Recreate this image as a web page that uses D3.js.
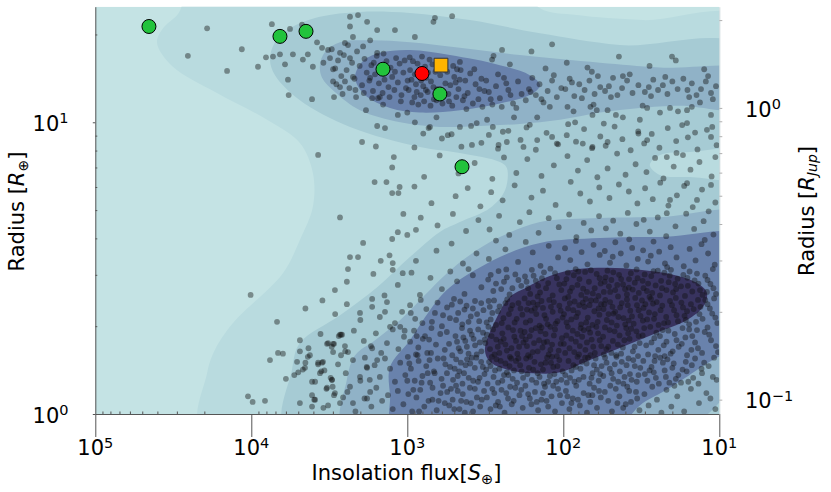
<!DOCTYPE html>
<html><head><meta charset="utf-8">
<script src="https://cdn.jsdelivr.net/npm/d3@7"></script>
<style>body{margin:0;background:#fff}svg{display:block}text{font-family:"DejaVu Sans",sans-serif;fill:#000}</style>
</head><body><svg id="chart" width="831" height="492"></svg>
<script>
// ---------- DATA (flux in S_earth, radius in R_earth) ----------
const xTicks = [1e5, 1e4, 1e3, 1e2, 1e1];
const xTickExp = ["5", "4", "3", "2", "1"];
const yTicks = [1, 10];
const yTickExp = ["0", "1"];
const jupTicks = [0.1, 1];
const jupTickExp = ["\u22121", "0"];
const rJupInREarth = 11.2;

const levelColors = ["#c4e3e4", "#b9dbdf", "#a6cbd4", "#90b2c7", "#6982ac", "#38335f"];

const contourB = [[23000,30],[190,30],[141,24.6],[82,23.3],[31,22.4],[6,22.1],[6,0.85],[20400,0.85],[19200,1.38],[17100,1.66],[13100,2.05],[6270,3.04],[4880,3.95],[4030,5.13],[4030,6.70],[4880,8.49],[7920,10.2],[16600,12.6],[31800,15.5],[40200,18.7],[36800,21.0],[29500,23.5]];
const contourC = [[7590,16.4],[7050,18.8],[5650,21.0],[3630,23.0],[2010,23.9],[962,23.7],[397,22.4],[141,20.2],[43.4,18.4],[6,17.4],[6,0.85],[5900,0.85],[5480,1.42],[4880,1.75],[2700,2.18],[1560,2.72],[962,3.45],[618,4.21],[460,4.55],[295,5.08],[236,5.86],[230,6.97],[255,7.31],[460,7.85],[830,8.23],[2330,9.64],[4880,11.9],[7050,14.5]];
const holeB = [[27.9,7.14],[24.0,7.73],[15.4,7.91],[6,7.98],[6,6.44],[15.4,6.49],[24.0,6.59]];
const contourDUpper = [[3630,15.7],[3370,17.4],[2700,18.8],[1730,19.1],[962,18.8],[460,18.0],[190,17.0],[58.2,16.0],[24.0,15.4],[6,14.9],[6,11.2],[17.9,11.4],[32.3,11.2],[58.2,10.8],[105,10.2],[190,9.87],[343,9.71],[618,9.64],[1110,10.0],[2010,11.0],[2910,12.7],[3520,14.2]];
const contourDLower = [[2510,0.85],[2440,1.31],[2160,1.59],[1610,1.79],[1110,2.10],[771,2.56],[557,3.04],[397,3.51],[255,4.04],[141,4.55],[58.2,4.70],[24.0,4.73],[6,4.73],[6,1.40],[7.7,1.28],[15.4,0.92]];
const contourEUpper = [[2160,14.2],[1950,16.1],[1500,17.3],[962,17.7],[533,17.0],[255,15.7],[164,14.5],[141,13.4],[164,12.4],[255,11.6],[460,11.0],[830,10.8],[1290,11.2],[1870,12.4]];
const contourELower = [[1200,0.85],[1290,1.16],[1290,1.45],[962,1.79],[716,2.27],[533,2.72],[255,3.45],[141,3.86],[58.2,4.01],[24.0,4.04],[6,4.01],[6,1.98],[13.3,1.44],[20.7,1.23],[32.3,1.07],[39.1,0.95],[45,0.85]];
const contourF = [[318,1.66],[266,2.15],[220,2.52],[171,2.72],[127,2.95],[86.7,3.12],[52.5,3.17],[32.3,3.12],[19.8,3.00],[13.9,2.81],[12.0,2.60],[12.7,2.33],[16.1,2.10],[25.1,1.90],[41.5,1.70],[67.5,1.53],[105,1.39],[156,1.38],[230,1.42],[295,1.51]];

const smallPlanets = [
[10.6,1.04],[12.1,1.18],[13.5,1.09],[15.2,1.22],[16.8,1.02],[11.4,1.13],
[18.6,1.15],[20.3,1.06],[21.8,1.21],[23.5,1.01],[25.1,1.12],[26.9,1.24],[28.4,1.07],[30.2,1.17],[19.4,1.25],
[32.5,1.03],[34.2,1.19],[36.8,1.10],[38.9,1.24],[41.3,1.05],[43.7,1.15],[46.1,1.22],[48.8,1.02],[51.5,1.11],[54.2,1.19],[39.8,1.08],
[57.5,1.14],[60.8,1.05],[63.5,1.23],[67.2,1.10],[70.5,1.01],[74.1,1.18],[78.3,1.07],[82.6,1.25],[86.9,1.13],[91.4,1.04],[96.2,1.20],[65.1,1.16],[88.7,1.09],
[102,1.09],[108,1.22],[113,1.02],[119,1.15],[125,1.06],[131,1.24],[138,1.12],[145,1.03],[152,1.19],[160,1.08],[168,1.17],[175,1.25],[128,1.11],
[182,1.05],[191,1.16],[203,1.23],[214,1.08],[226,1.13],[238,1.01],[249,1.21],[262,1.10],[277,1.18],[293,1.04],[309,1.14],[219,1.24],[271,1.07],
[322,1.20],[341,1.06],[358,1.14],[379,1.02],[397,1.23],[418,1.10],[441,1.17],[463,1.04],[487,1.25],[512,1.12],[538,1.07],[555,1.19],[428,1.01],
[575,1.09],[612,1.18],[648,1.03],[689,1.23],[731,1.11],[778,1.06],[826,1.21],[874,1.14],[931,1.02],[985,1.17],
[1060,1.08],[1150,1.20],[1240,1.04],[1330,1.16],[1450,1.11],[1580,1.23],[1700,1.06],
[1880,1.13],[2150,1.02],[2420,1.19],[2700,1.09],[3010,1.24],
[3450,1.05],[10500,1.15],[9800,1.10],[8170,1.11],[4880,1.09],[4080,1.06],[3900,1.12],
[10.4,1.31],[11.7,1.46],[12.9,1.38],[14.3,1.55],[15.8,1.29],[17.2,1.42],[13.6,1.27],[16.4,1.51],
[18.3,1.36],[19.6,1.49],[20.9,1.28],[22.4,1.41],[23.9,1.56],[25.5,1.33],[27.2,1.45],[28.9,1.30],[30.7,1.52],[21.5,1.54],[26.3,1.39],
[32.1,1.44],[33.8,1.29],[35.6,1.53],[37.4,1.37],[39.3,1.47],[41.2,1.27],[43.4,1.40],[45.6,1.57],[47.9,1.32],[50.3,1.43],[52.8,1.50],[55.4,1.35],[36.5,1.31],[46.8,1.48],
[56.8,1.46],[59.3,1.30],[62.1,1.55],[64.9,1.38],[67.8,1.27],[70.9,1.49],[74.2,1.34],[77.6,1.43],[81.1,1.57],[84.8,1.29],[88.5,1.41],[92.6,1.52],[97.1,1.36],[61.0,1.42],[72.5,1.56],[86.2,1.47],[95.0,1.28],
[101,1.40],[106,1.53],[111,1.29],[116,1.45],[122,1.35],[127,1.56],[133,1.27],[139,1.48],[146,1.38],[153,1.51],[159,1.31],[166,1.44],[173,1.55],[114,1.37],[135,1.42],[149,1.28],[163,1.57],[120,1.50],
[181,1.33],[189,1.47],[198,1.28],[207,1.41],[216,1.55],[225,1.36],[235,1.49],[246,1.30],[257,1.43],[268,1.54],[280,1.34],[293,1.46],[306,1.27],[201,1.52],[230,1.39],[262,1.28],[287,1.57],[312,1.42],
[320,1.37],[336,1.51],[352,1.29],[369,1.44],[386,1.56],[404,1.33],[423,1.47],[443,1.27],[464,1.40],[486,1.54],[509,1.31],[532,1.45],[557,1.38],[395,1.49],[475,1.35],
[570,1.48],[603,1.32],[638,1.55],[675,1.40],[714,1.28],[756,1.46],[800,1.35],[846,1.52],[896,1.30],[948,1.43],[992,1.57],[720,1.53],
[1030,1.36],[1110,1.50],[1200,1.29],[1290,1.43],[1390,1.55],[1500,1.34],[1620,1.47],[1740,1.31],
[1820,1.45],[2000,1.30],[2230,1.53],[2480,1.38],[2780,1.48],[3100,1.33],
[3400,1.41],[3900,1.29],[4500,1.50],[5300,1.36],[7590,1.53],[6000,1.32],
[10.2,1.63],[11.3,1.79],[12.4,1.91],[13.7,1.68],[14.9,1.85],[16.1,1.59],[17.4,1.74],[11.9,1.98],[15.6,1.95],
[18.2,1.70],[19.3,1.88],[20.5,1.61],[21.8,1.77],[23.1,1.94],[24.6,1.66],[26.1,1.82],[27.7,1.99],[29.4,1.72],[31.0,1.86],[22.4,1.58],[25.3,1.90],[28.6,1.60],
[32.4,1.75],[34.0,1.92],[35.8,1.64],[37.6,1.81],[39.5,1.97],[41.5,1.69],[43.6,1.86],[45.8,1.59],[48.1,1.78],[50.5,1.94],[53.0,1.67],[55.6,1.84],[33.2,1.58],[38.4,1.89],[44.7,1.73],[49.2,1.62],[54.1,1.98],
[57.1,1.71],[59.9,1.89],[62.8,1.62],[65.8,1.80],[68.9,1.96],[72.2,1.66],[75.7,1.84],[79.3,1.60],[83.1,1.77],[87.0,1.93],[91.2,1.68],[95.6,1.86],[99.2,1.74],[61.4,1.99],[70.6,1.76],[77.4,1.97],[85.1,1.63],[93.5,1.99],[67.0,1.59],
[102,1.82],[107,1.65],[113,1.95],[118,1.73],[124,1.60],[130,1.88],[136,1.69],[143,1.79],[150,1.97],[157,1.63],[164,1.85],[171,1.71],[177,1.91],[110,1.58],[127,1.77],[140,1.92],[154,1.75],[168,1.59],[121,1.99],
[180,1.76],[188,1.93],[197,1.61],[206,1.84],[215,1.68],[225,1.98],[235,1.73],[246,1.89],[257,1.62],[269,1.80],[282,1.95],[295,1.67],[309,1.87],[192,1.70],[220,1.57],[252,1.77],[276,1.60],[302,1.99],
[319,1.80],[335,1.64],[351,1.95],[368,1.72],[386,1.87],[405,1.61],[425,1.78],[446,1.97],[468,1.68],[491,1.85],[515,1.59],[540,1.74],[558,1.91],[437,1.83],
[575,1.66],[615,1.88],[655,1.73],[700,1.97],[745,1.62],[795,1.81],[850,1.69],[905,1.93],[960,1.77],[880,1.60],
[1050,1.84],[1140,1.67],[1240,1.95],[1350,1.75],[1470,1.62],[1590,1.89],[1710,1.71],
[1900,1.78],[2200,1.93],[2500,1.64],[2750,1.85],[3050,1.70],
[4880,1.79],[6740,1.62],[6270,1.61],[3600,1.88],[4300,1.68],[2700,1.87],
[10.3,2.05],[11.1,2.21],[11.9,2.38],[12.8,2.12],[13.7,2.46],[14.6,2.29],[15.6,2.03],[16.7,2.17],[17.5,2.41],[10.8,2.49],[13.2,2.33],[16.1,2.25],
[18.4,2.08],[19.5,2.27],[20.7,2.44],[21.9,2.15],[23.2,2.35],[24.5,2.02],[25.9,2.20],[27.4,2.48],[29.0,2.11],[30.6,2.31],[19.0,2.50],[22.6,2.05],[26.6,2.39],[28.2,2.23],[31.3,2.45],
[32.0,2.17],[33.7,2.36],[35.4,2.04],[37.2,2.26],[39.1,2.47],[41.1,2.13],[43.2,2.32],[45.4,2.01],[47.7,2.21],[50.1,2.42],[52.6,2.10],[55.2,2.29],[34.6,2.50],[38.1,2.09],[42.2,2.40],[46.5,2.24],[49.0,2.06],[53.8,2.46],
[57.3,2.38],[60.2,2.07],[63.2,2.25],[66.4,2.45],[69.7,2.14],[73.1,2.33],[76.8,2.03],[80.6,2.22],[84.6,2.43],[88.8,2.11],[93.2,2.30],[97.8,2.49],[58.7,2.19],[65.0,2.02],[71.8,2.48],[79.0,2.36],[86.4,2.27],[95.3,2.06],
[101,2.14],[106,2.35],[112,2.04],[117,2.24],[123,2.46],[129,2.12],[135,2.31],[142,2.01],[149,2.20],[156,2.41],[163,2.09],[171,2.28],[177,2.49],[115,2.42],[132,2.18],[146,2.37],[160,2.26],
[183,2.19],[194,2.40],[205,2.06],[217,2.29],[229,2.47],[242,2.13],[256,2.34],[270,2.02],[285,2.22],[301,2.44],[212,2.36],[248,2.05],[292,2.11],
[325,2.27],[346,2.08],[368,2.44],[392,2.16],[417,2.35],[444,2.03],[472,2.22],[502,2.48],[533,2.13],[556,2.32],
[590,2.18],[640,2.41],[695,2.07],[755,2.29],[820,2.46],[890,2.12],[960,2.36],
[1080,2.24],[1200,2.05],[1350,2.42],[1500,2.15],[1680,2.33],
[2000,2.10],[2440,2.38],[2900,2.20],[6840,2.07],[4500,2.30],[3500,2.45],
[10.5,2.58],[11.4,2.79],[12.3,2.98],[13.3,2.66],[14.4,2.87],[15.5,3.08],[16.6,2.54],[17.6,2.74],[11.0,3.14],[13.9,3.03],[16.0,2.93],
[18.5,2.91],[19.8,2.61],[21.1,2.83],[22.5,3.05],[24.0,2.55],[25.6,2.76],[27.3,2.97],[29.1,2.64],[31.0,2.86],[20.4,3.12],[23.3,2.70],[26.4,3.09],[28.0,2.52],[30.1,3.01],[18.9,2.68],
[32.8,2.60],[34.8,2.82],[36.9,3.04],[39.1,2.57],[41.4,2.78],[43.9,3.00],[46.5,2.66],[49.2,2.88],[52.1,3.10],[55.0,2.62],[33.9,3.13],[38.0,2.71],[44.6,2.53],[47.8,3.06],[51.0,2.74],[53.6,2.94],
[57.6,2.80],[61.1,3.02],[64.7,2.59],[68.5,2.84],[72.5,3.07],[76.7,2.56],[81.1,2.77],[85.7,2.99],[90.5,2.63],[95.5,2.90],[59.5,2.54],[66.6,3.11],[74.6,2.69],[83.3,3.14],[92.9,2.52],
[103,2.66],[110,2.92],[117,2.55],[125,2.81],[133,3.06],[141,2.61],[150,2.86],[159,3.12],[168,2.70],[176,2.96],[121,3.15],[146,2.53],
[186,2.75],[203,3.01],[221,2.57],[240,2.84],[260,3.09],[281,2.64],[303,2.89],[232,3.13],
[335,2.72],[380,2.99],[430,2.58],[480,2.85],[530,3.08],[405,3.14],
[600,2.68],[710,2.93],[830,2.56],[940,3.05],
[1150,2.77],[1400,2.55],[1650,3.02],[2440,2.84],[2910,2.66],[10100,2.56],
[10.7,3.25],[11.8,3.55],[13.0,3.82],[14.2,3.36],[15.5,3.68],[16.9,3.21],[12.4,3.95],
[18.8,3.44],[20.5,3.73],[22.3,3.28],[24.3,3.60],[26.4,3.90],[28.6,3.33],[30.8,3.64],[21.6,3.19],[27.5,3.49],
[33.3,3.40],[36.2,3.71],[39.4,3.23],[42.8,3.55],[46.4,3.88],[50.2,3.30],[54.2,3.62],[37.8,3.97],[48.2,3.46],
[58.4,3.51],[64.0,3.80],[70.0,3.26],[76.3,3.59],[83.0,3.92],[90.2,3.37],[97.5,3.70],
[108,3.44],[124,3.77],[140,3.22],[157,3.58],[174,3.89],
[195,3.32],[235,3.67],[270,3.93],[300,3.40],
[360,3.55],[440,3.28],[520,3.84],[650,3.63],[880,3.35],
[1920,3.86],[2330,3.45],[2070,3.45],[2400,3.14],[1300,3.50],
[1480,3.35],[1240,3.29],[1240,3.12],[1070,3.04],[1680,2.48],[2010,2.22],[1390,2.24],
[1250,3.98],[1290,1.99],[1110,1.99],[1040,1.93],[2620,1.87],[3220,1.75],[2990,1.74],[2510,1.71],[4210,1.59],[3730,1.50],[3470,1.51],[2990,1.63],[2660,1.59],[2400,1.63],[4530,1.44],[3630,1.38],[3040,1.31],[3270,1.23],[4080,1.29],[2910,1.18],[2580,1.14],[2230,1.09],[3220,1.07],[1810,1.13],[1730,1.19],[2330,1.24],[2010,1.34],[1810,1.44],[1560,1.53],[1870,1.56],[1680,1.68],
[4880,1.64],[5090,1.51],[4670,1.42],[5000,1.39],[4340,1.57],[3270,1.74],[2950,1.74],[2660,1.87],[3730,1.48],[3520,1.50],[3560,1.40],[3300,1.22],[3040,1.31],[2950,1.16],[4080,1.16],[3950,1.12]
];

const denseSmallPlanets = [
[11.0,1.34],[12.5,1.50],[14.7,1.33],[16.2,1.40],[10.8,1.56],[13.0,1.43],[15.0,1.47],[17.6,1.28],
[19.0,1.32],[20.0,1.44],[22.0,1.34],[23.0,1.50],[24.4,1.27],[26.0,1.52],[28.0,1.41],[30.0,1.37],
[33.0,1.36],[34.8,1.46],[38.2,1.55],[40.5,1.34],[42.2,1.51],[44.5,1.29],[49.0,1.38],[54.0,1.56],
[58.0,1.37],[63.5,1.47],[66.0,1.33],[69.5,1.56],[76.0,1.51],[79.5,1.31],[83.0,1.45],[90.5,1.33],
[103,1.31],[109,1.46],[118,1.57],[125,1.29],[130,1.50],[142,1.34],[156,1.42],[170,1.37],
[185,1.40],[194,1.55],[211,1.32],[221,1.46],[240,1.36],[252,1.52],[274,1.41],[299,1.51],
[328,1.45],[344,1.33],[361,1.56],[378,1.30],[414,1.54],[433,1.38],[454,1.50],[497,1.43],
[10.5,1.71],[11.6,1.87],[12.9,1.62],[13.9,1.94],[15.1,1.66],[16.5,1.83],[17.2,1.97],[14.3,1.76],
[18.8,1.79],[19.9,1.64],[21.2,1.93],[22.7,1.72],[24.0,1.85],[25.8,1.58],[27.2,1.76],[30.3,1.97],
[32.9,1.85],[34.9,1.70],[36.7,1.96],[40.6,1.79],[42.6,1.61],[46.9,1.92],[51.5,1.70],[55.0,1.60],
[58.4,1.79],[64.3,1.70],[67.3,1.90],[73.9,1.94],[78.3,1.71],[81.2,1.88],[89.0,1.81],[97.3,1.62],
[104,1.74],[115,1.86],[121,1.66],[133,1.76],[146,1.64],[160,1.94],[174,1.80],[138,1.98],
[184,1.85],[201,1.78],[210,1.94],[230,1.65],[241,1.81],[263,1.70],[288,1.85],[316,1.75],
[327,1.90],[343,1.76],[359,1.60],[376,1.81],[396,1.93],[415,1.70],[457,1.64],[480,1.77],
[10.6,2.14],[11.5,2.30],[12.3,2.46],[13.4,2.20],[14.1,2.07],[15.2,2.38],[16.4,2.10],[17.1,2.32],
[18.8,2.18],[20.1,2.36],[21.3,2.06],[23.8,2.27],[25.2,2.42],[26.2,2.12],[29.8,2.38],[30.9,2.09],
[32.9,2.27],[36.3,2.16],[38.6,2.36],[40.1,2.03],[44.3,2.15],[48.4,2.33],[51.3,2.20],[54.5,2.38],
[59.4,2.30],[61.8,2.45],[67.9,2.36],[71.3,2.06],[75.0,2.41],[82.5,2.15],[90.9,2.40],[99.0,2.20],
[104,2.26],[109,2.08],[120,2.33],[126,2.03],[138,2.44],[152,2.30],[167,2.40],[174,2.06],
[188,2.30],[199,2.12],[223,2.20],[235,2.40],[262,2.25],[278,2.45],[296,2.33],[310,2.06],
[336,2.40],[357,2.20],[380,2.30],[405,2.07],[430,2.28],[458,2.43],[487,2.10],[518,2.37],
[10.9,2.70],[11.9,2.88],[12.8,2.56],[13.6,2.80],[14.9,2.63],[15.9,2.75],[17.0,3.00],[12.0,2.62],
[19.2,2.79],[20.8,2.98],[21.8,2.66],[23.6,2.86],[24.8,3.10],[26.9,2.60],[28.6,2.80],[30.6,2.70],
[33.4,2.92],[35.9,2.67],[37.9,2.90],[40.2,2.68],[42.6,2.90],[45.1,2.77],[50.1,2.62],[54.3,2.84],
[58.5,2.92],[62.9,2.70],[70.5,2.62],[78.8,2.90],[80.0,3.08],[87.9,2.71],[93.5,3.05],[98.5,2.80],
[106,2.78],[113,3.04],[129,2.70],[137,2.92],[145,2.75],[155,2.98],[163,2.58],[172,2.84],
[194,2.88],[212,2.70],[230,2.94],[250,2.68],[270,2.80],[292,3.00],
[33.6,1.13],[37.8,1.20],[45.0,1.09],[50.0,1.25],[59.0,1.20],[69.0,1.16],[80.5,1.12],[94.0,1.15],[105,1.16],[116,1.25],[135,1.18],[148,1.10],[164,1.13],[186,1.21],[208,1.11],[232,1.18],[255,1.06],[285,1.22],[333,1.12],[369,1.22],[390,1.09],[452,1.11],[475,1.20],[500,1.04],[525,1.22],
[590,1.25],[630,1.11],[668,1.38],[705,1.62],[740,1.38],[770,1.85],[810,1.28],[860,1.59],[915,1.21],[970,1.49],[600,2.00],[665,2.22],[725,1.80],[800,2.05],[870,1.85],[950,2.22],[585,1.55],[690,1.12],[840,1.02],[1000,1.30]
];

const midPlanets = [
[10.9,4.12],[12.6,4.58],[14.5,4.31],[16.3,4.86],[11.7,4.95],[19.1,4.40],[21.9,4.07],[24.8,4.72],[27.9,4.22],[30.5,4.63],[34.0,4.48],[38.6,4.89],[43.1,4.15],[47.9,4.60],[53.3,4.33],[59.0,4.77],[66.2,4.26],[74.0,4.52],[82.4,4.04],[91.7,4.83],[107,4.37],[124,4.69],[144,4.18],[165,4.92],[190,4.55],[222,4.11],[258,4.78],[297,4.29],[350,4.62],[420,4.24],[510,4.85],[640,4.43],[820,4.71],[1150,4.20],[1060,4.85],[880,4.28],[1000,4.11],[2700,4.72],
[10.6,5.31],[12.9,5.88],[14.8,5.12],[16.8,6.05],[18.7,5.62],[21.2,5.18],[23.9,6.21],[26.7,5.45],[29.9,5.94],[33.5,5.27],[38.0,5.79],[44.0,6.12],[50.6,5.50],[58.8,5.98],[67.5,5.35],[77.8,5.70],[89.6,6.25],[112,5.21],[135,5.83],[160,5.52],[205,6.08],[245,5.40],[290,5.76],[340,5.15],[410,5.95],[490,5.58],[700,5.28],[900,6.02],[1620,6.24],[1360,6.24],[1250,5.72],[1140,5.72],[1120,6.00],[20.7,5.42],[21.7,4.88],[13.9,5.42],[16.1,6.18],[11.3,6.10],
[11.2,6.52],[13.4,7.31],[15.3,6.88],[17.1,7.72],[19.6,7.05],[22.8,6.42],[25.8,7.55],[29.3,6.75],[34.4,7.18],[39.9,6.61],[45.2,7.81],[52.0,6.95],[60.5,6.48],[70.3,7.42],[80.6,6.83],[94.0,7.66],[115,7.12],[138,6.55],[170,7.48],[200,6.70],[240,7.58],[285,6.40],[370,7.25],[470,6.68],[620,7.70],[780,6.50],[1250,7.00],[1220,7.60],[3730,7.73],[21.7,7.60],[18.8,7.85],[10.6,7.60],
[10.4,8.35],[12.0,9.42],[13.8,8.07],[15.9,8.88],[17.3,9.78],[18.9,8.62],[21.4,9.55],[24.2,8.18],[27.1,9.12],[30.3,8.46],[33.1,9.30],[37.0,8.02],[41.8,8.75],[46.9,9.67],[53.5,8.31],[57.9,8.94],[65.4,8.15],[73.6,9.48],[82.9,8.58],[93.1,9.85],[108,8.40],[128,9.20],[150,8.05],[172,9.60],[188,8.70],[225,9.35],[262,8.12],[300,9.05],[335,8.50],[390,9.72],[450,8.25],[520,9.10],[600,8.80],[730,9.55],[900,8.20],[1950,8.56],[1590,8.26],[1560,9.71],[1390,9.55],[385,8.36],[260,8.36],[230,8.56],[180,8.23],[147,8.69],[118,8.91],[110,8.45],[95,9.03],[75,8.45],[65,8.23],[52,8.56],[33,9.15],[29,8.69],[14.3,9.22],[11.3,8.91],[11.1,9.64],[16.1,9.94],[55,9.9],[164,9.80],[244,9.28],[283,9.64],[359,9.94],[460,9.64],[550,9.03],[716,9.64],[790,9.15]
];

const giantPlanets = [
[122,11.3],[94,11.3],[86,10.9],[67,11.3],[52,11.0],[41.5,10.4],[29,11.2],[18.4,10.9],[11.3,10.6],[20.7,11.2],[32.3,10.2],[65,10.6],[84,10.0],[147,10.4],[207,10.4],[308,10.2],[650,10.4],
[1020,13.1],[1060,14.8],[1090,12.4],[1120,15.9],[1150,13.7],[1180,16.6],[1210,12.9],[1250,14.3],[1280,15.4],[1320,13.2],[1360,16.2],[1400,14.0],[1440,12.6],[1480,15.0],[1520,13.6],[1570,16.9],[1610,14.6],[1660,12.8],[1700,15.7],[1750,13.9],[1040,16.3],[1100,11.8],[1200,14.9],[1300,12.2],[1420,17.2],[1540,12.1],[1640,16.0],[1730,14.2],
[1820,14.8],[1880,16.5],[1950,13.4],[2020,15.6],[2100,17.5],[2180,14.1],[2260,16.0],[2350,13.1],[2450,15.1],[2550,17.0],[2650,14.4],[2780,16.3],[2900,15.3],[3050,17.8],[1900,12.6],[2150,12.9],[2400,18.4],[2600,12.5],[2850,13.5],
[570,13.6],[585,15.2],[600,12.3],[615,14.5],[630,16.1],[645,13.0],[660,14.9],[675,12.0],[690,15.8],[705,13.8],[720,16.4],[740,12.7],[755,14.2],[770,15.5],[790,13.3],[805,16.8],[820,12.4],[840,14.7],[860,15.9],[880,13.5],[900,12.2],[920,16.2],[940,14.0],[960,15.1],[980,12.9],[995,13.9],[595,11.6],[650,11.9],[710,11.4],[780,11.8],[850,11.5],[930,11.7],[625,15.6],[735,14.8],[815,13.9],[895,14.6],[965,16.7],[680,13.2],[760,12.9],[870,12.7],
[320,12.8],[335,14.1],[350,12.0],[365,13.5],[380,11.6],[395,14.7],[410,12.6],[425,13.9],[440,11.9],[455,15.1],[470,13.0],[485,12.2],[500,14.3],[515,11.4],[530,13.4],[545,12.5],[555,14.9],[330,11.3],[372,15.2],[418,11.1],[462,14.0],[508,15.6],[540,11.8],[345,13.0],[430,12.3],[490,13.7],
[185,12.5],[195,13.8],[210,11.6],[225,12.9],[240,14.2],[255,12.1],[270,13.3],[285,11.5],[300,12.7],[312,13.9],[200,11.2],[232,13.6],[262,14.6],[292,12.0],[218,12.4],[248,11.3],
[103,13.1],[110,12.2],[118,13.9],[126,12.8],[134,11.7],[142,13.5],[150,12.4],[158,14.2],[166,13.0],[174,11.9],[115,14.5],[138,12.0],[162,12.7],
[58,13.2],[63,12.5],[68,13.9],[73,12.9],[79,13.5],[85,12.3],[91,14.1],[97,13.0],[60,14.4],[76,12.1],[88,13.7],
[33,13.4],[36,12.6],[39,13.9],[42,13.1],[45,12.4],[48,14.2],[51,13.3],[54,12.8],[37.5,14.6],[49.5,12.2],
[18.5,13.0],[20,13.8],[21.5,12.5],[23,13.4],[24.7,12.9],[26.5,14.0],[28.3,13.2],[30,12.7],[22.2,14.3],[27.4,12.3],
[10.5,13.3],[11.3,12.6],[12.2,13.8],[13.1,13.0],[14.0,12.4],[15.0,13.6],[16.0,12.9],[17.0,14.1],[11.8,14.4],[15.6,12.2],
[12.5,15.2],[19,16.3],[28,15.6],[44,16.8],[70,15.4],[95,16.0],[130,15.3],[160,17.5],[220,15.8],[280,16.9],[31,11.4],[15,11.3],[64,11.5],[46,10.6],[24,10.8],
[19200,21.0],[25500,16.9],[14300,15.0],[11500,17.8],[9060,15.5],[8050,16.7],[7260,16.8],[7380,21.7],[5650,20.9],[4730,21.6],[6080,15.8],[6550,17.1],[5410,17.1],[4670,16.4],[4340,17.1],[5820,14.0],[5760,12.4],[4080,12.0],[3790,18.8],[4030,15.5],[3520,18.0],[3450,16.0],[3220,17.7],[2990,15.2],[2950,12.2],[2330,23.0],[2070,23.3],[2330,21.3],[1810,22.1],[1560,20.7],[2510,18.7],[2230,19.6],[1920,18.2],[1730,19.1],[2700,17.3],[2330,16.6],[3130,16.6],[2990,13.8],[2700,13.2],[2510,13.8],[2230,14.3],[2130,12.2],[1840,11.0],[1680,12.1],[1500,12.2],[1430,11.5],[1150,10.6],[1000,10.8],[894,10.0],[1200,20.7],[1560,17.3],[1360,15.2],
[665,22.8],[516,23.1],[680,22.1],[894,19.6],[247,17.7],[118,18.5],[286,16.4],[460,16.1],[480,15.2],[20.1,16.8],[65.6,14.9],[41.5,14.4],[61,11.0],[16.1,11.0],[13.3,11.7],[11.0,12.0]
];

const greenPlanets = [[45300,21.3],[6550,19.7],[4460,20.5],[1432,15.2],[618,12.5],[446,7.04]];
const redPlanet = [[805,14.7]];
const orangePlanet = [[608,15.7]];

// ---------- LAYOUT ----------
const plot = {left: 95.3, right: 719.3, top: 6.7, bottom: 414};
const x = d3.scaleLog().domain([1e5, 10]).range([plot.left, plot.right]);
const y = d3.scaleLog().domain([1, 24.9]).range([plot.bottom, plot.top]);
const yJup = d3.scaleLog().domain([1 / rJupInREarth, 24.9 / rJupInREarth]).range([plot.bottom, plot.top]);

const svg = d3.select("#chart");
svg.append("defs").append("clipPath").attr("id", "clip")
  .append("rect").attr("x", plot.left).attr("y", plot.top)
  .attr("width", plot.right - plot.left).attr("height", plot.bottom - plot.top);

const g = svg.append("g").attr("clip-path", "url(#clip)");
g.append("rect").attr("x", plot.left).attr("y", plot.top)
  .attr("width", plot.right - plot.left).attr("height", plot.bottom - plot.top)
  .attr("fill", levelColors[0]);

const area = d3.line().x(d => x(d[0])).y(d => y(d[1])).curve(d3.curveCatmullRomClosed.alpha(0.5));
const layers = [
  [contourB, 1], [contourC, 2], [holeB, 1], [contourDUpper, 3], [contourDLower, 3],
  [contourEUpper, 4], [contourELower, 4], [contourF, 5]
];
g.selectAll("path.level").data(layers).join("path").attr("class", "level")
  .attr("d", d => area(d[0])).attr("fill", d => levelColors[d[1]]);

const allPlanets = smallPlanets.concat(denseSmallPlanets, midPlanets, giantPlanets);
g.selectAll("circle.pl").data(allPlanets).join("circle").attr("class", "pl")
  .attr("cx", d => x(d[0])).attr("cy", d => y(d[1])).attr("r", 2.9)
  .attr("fill", "#111").attr("fill-opacity", 0.42);

// highlighted planets
svg.selectAll("circle.green").data(greenPlanets).join("circle").attr("class", "green")
  .attr("cx", d => x(d[0])).attr("cy", d => y(d[1])).attr("r", 7)
  .attr("fill", "#22c33c").attr("stroke", "#000").attr("stroke-width", 1);
svg.selectAll("circle.red").data(redPlanet).join("circle").attr("class", "red")
  .attr("cx", d => x(d[0])).attr("cy", d => y(d[1])).attr("r", 7)
  .attr("fill", "#ff0000").attr("stroke", "#000").attr("stroke-width", 1);
svg.selectAll("path.orange").data(orangePlanet).join("path").attr("class", "orange")
  .attr("transform", d => `translate(${x(d[0])},${y(d[1])})`)
  .attr("d", d3.symbol(d3.symbolSquare, 190))
  .attr("fill", "#ffb400").attr("stroke", "#333").attr("stroke-width", 1);

// ---------- AXES ----------
const axisColor = "#555";
function styleAxis(sel, color) {
  sel.selectAll("line").attr("stroke", color);
  sel.selectAll("path").attr("stroke", color);
}
const minorX = [];
[1e1, 1e2, 1e3, 1e4].forEach(b => { for (let k = 2; k <= 9; k++) minorX.push(b * k); });
const minorY = [2, 3, 4, 5, 6, 7, 8, 9, 20];
const minorJup = [0.2, 0.3, 0.4, 0.5, 0.6, 0.7, 0.8, 0.9, 2];

const gx = svg.append("g").attr("transform", `translate(0,${plot.bottom})`)
  .call(d3.axisBottom(x).tickValues(xTicks).tickSize(23).tickSizeOuter(0).tickFormat(""));
styleAxis(gx, axisColor);
const gxm = svg.append("g").attr("transform", `translate(0,${plot.bottom})`)
  .call(d3.axisBottom(x).tickValues(minorX).tickSize(-2.5).tickSizeOuter(0).tickFormat(""));
gxm.select(".domain").remove(); styleAxis(gxm, axisColor);

const gy = svg.append("g").attr("transform", `translate(${plot.left},0)`)
  .call(d3.axisLeft(y).tickValues(yTicks).tickSize(2.5).tickSizeOuter(0).tickFormat(""));
styleAxis(gy, axisColor);
const gym = svg.append("g").attr("transform", `translate(${plot.left},0)`)
  .call(d3.axisLeft(y).tickValues(minorY).tickSize(-2).tickSizeOuter(0).tickFormat(""));
gym.select(".domain").remove(); styleAxis(gym, axisColor);

const gr = svg.append("g").attr("transform", `translate(${plot.right},0)`)
  .call(d3.axisRight(yJup).tickValues(jupTicks.concat(minorJup)).tickSize(3).tickSizeOuter(0).tickFormat(""));
styleAxis(gr, "#b0b0b0");
gr.select(".domain").attr("stroke", "#c8d8da");

function powLabel(sel, exp) {
  sel.append("tspan").text("10");
  sel.append("tspan").attr("dy", -7.5).attr("font-size", 14.5).text(exp);
}
svg.selectAll("text.xt").data(xTicks).join("text").attr("class", "xt")
  .attr("x", d => x(d)).attr("y", 455).attr("text-anchor", "middle").attr("font-size", 21)
  .each(function(d, i) { powLabel(d3.select(this), xTickExp[i]); });
svg.selectAll("text.yt").data(yTicks).join("text").attr("class", "yt")
  .attr("x", 68.5).attr("y", d => y(d) + 8.7).attr("text-anchor", "end").attr("font-size", 21)
  .each(function(d, i) { powLabel(d3.select(this), yTickExp[i]); });
svg.selectAll("text.jt").data(jupTicks).join("text").attr("class", "jt")
  .attr("x", 745).attr("y", d => yJup(d) + 8.7).attr("text-anchor", "start").attr("font-size", 21)
  .each(function(d, i) { powLabel(d3.select(this), jupTickExp[i]); });

const xt = svg.append("text").attr("x", 406.5).attr("y", 480).attr("text-anchor", "middle").attr("font-size", 21);
xt.append("tspan").text("Insolation flux[");
xt.append("tspan").attr("font-style", "italic").text("S");
xt.append("tspan").attr("font-size", 14.5).attr("dy", 3.5).text("\u2295");
xt.append("tspan").attr("dy", -3.5).text("]");

const yl = svg.append("text").attr("transform", "translate(24,211.5) rotate(-90)")
  .attr("text-anchor", "middle").attr("font-size", 21);
yl.append("tspan").text("Radius [");
yl.append("tspan").attr("font-style", "italic").text("R");
yl.append("tspan").attr("font-size", 14).attr("dy", 3.5).text("\u2295");
yl.append("tspan").attr("dy", -3.5).text("]");

const yr = svg.append("text").attr("transform", "translate(813.5,211) rotate(-90)")
  .attr("text-anchor", "middle").attr("font-size", 21);
yr.append("tspan").text("Radius [");
yr.append("tspan").attr("font-style", "italic").text("R");
yr.append("tspan").attr("font-size", 14).attr("font-style", "italic").attr("dy", 3.5).text("Jup");
yr.append("tspan").attr("dy", -3.5).text("]");
</script>
</body></html>
